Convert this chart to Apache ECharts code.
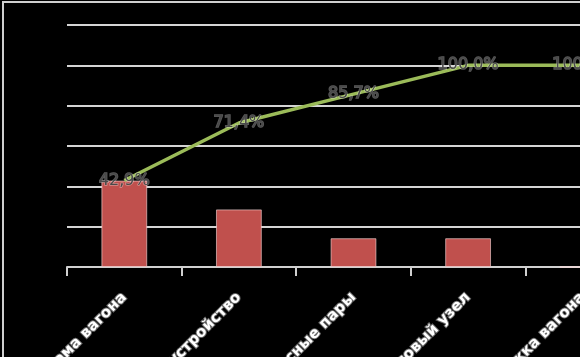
<!DOCTYPE html>
<html>
<head>
<meta charset="utf-8">
<script src="https://cdn.jsdelivr.net/npm/echarts@6/dist/echarts.min.js"></script>
<style>
html,body{margin:0;padding:0;background:#000;}
#c{width:580px;height:357px;}
</style>
</head>
<body>
<div id="c"></div>
<script>
var categories = ['Рама вагона', 'Автосцепное устройство', 'Колесные пары', 'Буксовый узел', 'Тележка вагона'];
var counts = [3, 2, 1, 1, 0];
var cumulativePct = [42.9, 71.4, 85.7, 100.0, 100.0];

var chart = echarts.init(document.getElementById('c'), null, {renderer: 'canvas'});
chart.setOption({
  backgroundColor: '#000',
  animation: false,
  grid: {left: 67, top: 25, width: 573, height: 242, containLabel: false, outerBoundsMode: 'none'},
  graphic: [{
    type: 'rect', silent: true, z: 100,
    shape: {x: 3, y: 2, width: 800, height: 600},
    style: {fill: 'none', stroke: '#cfcfcf', lineWidth: 2}
  }],
  xAxis: {
    type: 'category', data: categories, boundaryGap: true,
    axisLine: {show: true, lineStyle: {color: '#d0d0d0', width: 2}},
    axisTick: {show: true, interval: 0, length: 9, lineStyle: {color: '#d0d0d0', width: 2}},
    axisLabel: {
      interval: 0, rotate: 45, margin: 28,
      color: '#ffffff', fontFamily: 'DejaVu Sans', fontWeight: 'bold', fontSize: 15,
      textBorderColor: '#6a6a6a', textBorderWidth: 2
    }
  },
  yAxis: [{
    type: 'value', min: 0, max: 8.4, interval: 1.4,
    axisLabel: {show: false}, axisLine: {show: false}, axisTick: {show: false},
    splitLine: {show: false}
  }, {
    type: 'value', min: 0, max: 120, interval: 20,
    axisLabel: {show: false}, axisLine: {show: false}, axisTick: {show: false},
    splitLine: {show: true, lineStyle: {color: '#d4d4d4', width: 2}}
  }],
  series: [{
    type: 'bar', data: counts, yAxisIndex: 0, barWidth: '40%',
    itemStyle: {color: '#c0504d', borderColor: 'rgba(255,220,220,0.6)', borderWidth: 1}
  }, {
    type: 'line', data: cumulativePct, yAxisIndex: 1, z: 5,
    showSymbol: true, symbol: 'circle', symbolSize: 1,
    itemStyle: {color: '#9bbb59', opacity: 0},
    lineStyle: {color: '#9bbb59', width: 3.5, opacity: 1},
    label: {
      show: true, position: 'inside', opacity: 1,
      formatter: function (p) { return p.value.toFixed(1).replace('.', ',') + '%'; },
      color: '#4a4a4a', fontFamily: 'DejaVu Sans', fontSize: 16,
      textBorderColor: 'rgba(255,255,255,0.35)', textBorderWidth: 1.5
    },
    labelLayout: {hideOverlap: false}
  }]
});
</script>
</body>
</html>
